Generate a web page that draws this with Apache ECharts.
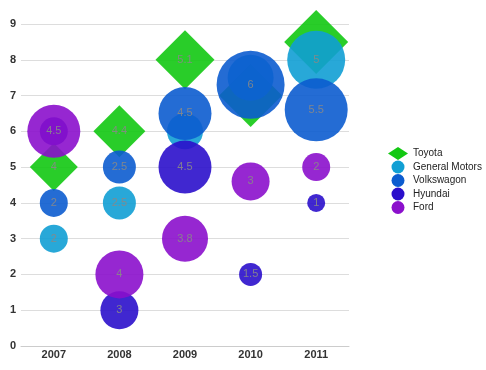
<!DOCTYPE html>
<html><head><meta charset="utf-8">
<script src="https://cdn.jsdelivr.net/npm/echarts@6/dist/echarts.min.js"></script>
<style>html,body{margin:0;padding:0;background:#fff}#c{width:486px;height:370px}</style>
</head><body><div id="c"></div>
<script>
const years = ['2007','2008','2009','2010','2011'];
const seriesNames = ['Toyota','General Motors','Volkswagon','Hyundai','Ford'];
const toyotaY    = [5, 6, 8, 7, 8.5];
const toyotaSize = [4, 4.4, 5.1, 5.5, 5.6];
const gmY        = [3, 4, 6, 7.5, 8];
const gmSize     = [2, 2.5, 2.8, 3.8, 5];
const vwY        = [4, 5, 6.5, 7.3, 6.6];
const vwSize     = [2, 2.5, 4.5, 6, 5.5];
const hyundaiY   = [6, 1, 5, 2, 4];
const hyundaiSize= [2, 3, 4.5, 1.5, 1];
const fordY      = [6, 2, 3, 4.6, 5];
const fordSize   = [4.5, 4, 3.8, 3, 2];
const yTicks = [0,1,2,3,4,5,6,7,8,9];
// labels hidden behind other bubbles in the reference
const hiddenLabels = {'Toyota':['2010','2011'],'General Motors':['2009','2010'],'Hyundai':['2007']};

const colors = ['#12c812','#119fd4','#0c5ccf','#2b0fcb','#8b10cc'];
const ys = [toyotaY, gmY, vwY, hyundaiY, fordY];
const ss = [toyotaSize, gmSize, vwSize, hyundaiSize, fordSize];

const series = seriesNames.map((name, k) => ({
  name, type: 'scatter',
  symbol: k === 0 ? 'diamond' : 'circle',
  symbolSize: v => 2 * (4 + 5 * v[2]),
  itemStyle: { color: colors[k], opacity: 0.9 },
  label: { show: true, position: 'inside', color: '#888', fontSize: 11, fontFamily: 'Arial, Liberation Sans',
           formatter: p => String(p.value[2]) },
  emphasis: { disabled: true },
  data: years.map((yr, i) => {
    const d = { value: [yr, ys[k][i], ss[k][i]] };
    if ((hiddenLabels[name] || []).includes(yr)) d.label = { show: false };
    return d;
  })
}));

const chart = echarts.init(document.getElementById('c'), null, { renderer: 'canvas' });
chart.setOption({
  animation: false,
  color: colors,
  textStyle: { fontFamily: 'Arial, Liberation Sans' },
  grid: { left: 21, right: 137, top: 24, bottom: 24, containLabel: false },
  legend: {
    orient: 'vertical', left: 383, top: 142, itemWidth: 20, itemHeight: 13, itemGap: 0.5,
    textStyle: { fontSize: 10, color: '#222' },
    itemStyle: { opacity: 1 },
    data: seriesNames.map((n, k) => ({ name: n, icon: k === 0 ? 'diamond' : 'circle' }))
  },
  xAxis: {
    type: 'category', data: years, boundaryGap: true,
    axisLine: { lineStyle: { color: '#ccc', width: 1 } },
    axisTick: { show: false },
    axisLabel: { color: '#333', fontWeight: 'bold', fontSize: 11, margin: 3 },
    splitLine: { show: false }
  },
  yAxis: {
    type: 'value', min: yTicks[0], max: yTicks[yTicks.length - 1], interval: 1,
    axisLine: { show: false }, axisTick: { show: false },
    axisLabel: { color: '#333', fontWeight: 'bold', fontSize: 11, margin: 5 },
    splitLine: { lineStyle: { color: '#ddd', width: 1 } }
  },
  series
});
</script></body></html>
